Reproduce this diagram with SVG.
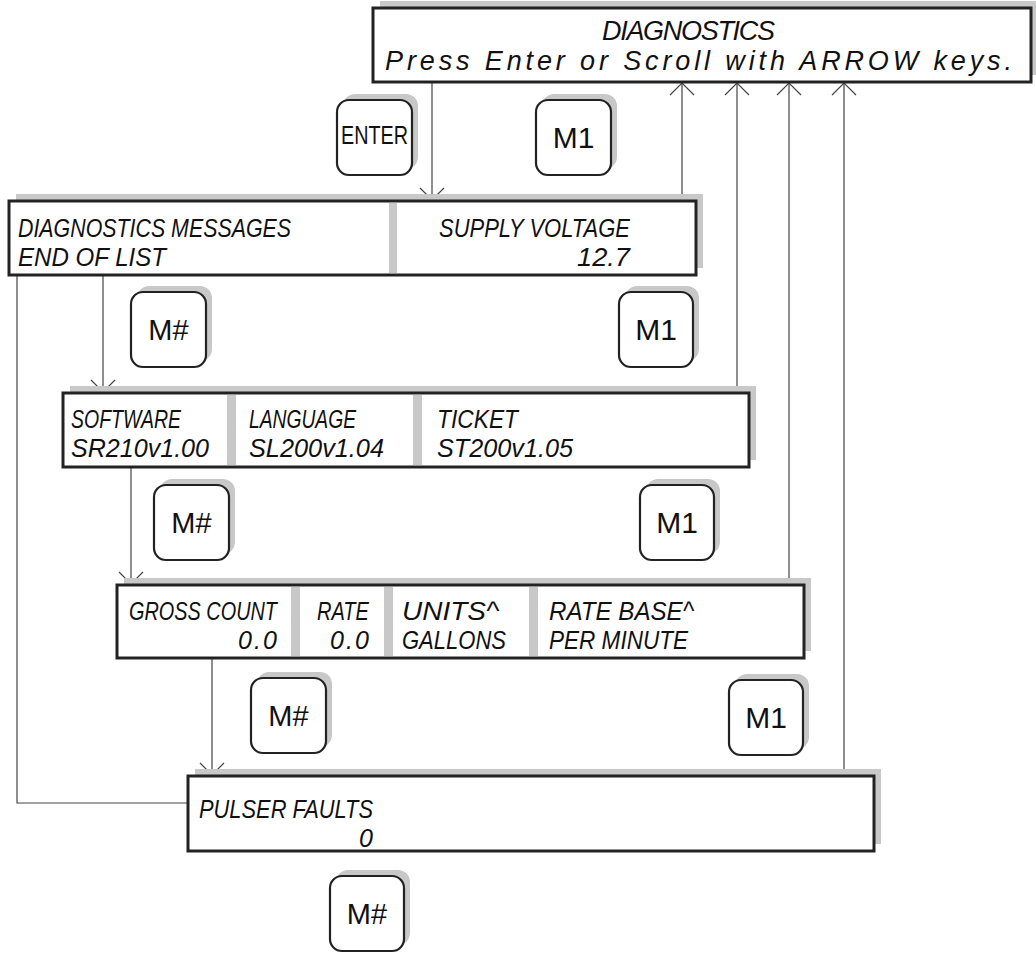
<svg xmlns="http://www.w3.org/2000/svg" width="1036" height="953" viewBox="0 0 1036 953">
<style>
.sh{fill:#c8c8c8}
.box{fill:#fff;stroke:#222;stroke-width:3}
.div{fill:#c8c8c8}
.key{fill:#fff;stroke:#222;stroke-width:2.2}
.ksh{fill:#c8c8c8}
.t{font-family:"Liberation Sans",Arial,sans-serif;font-style:italic;font-size:25px;fill:#111}
.tm{font-family:"Liberation Sans",Arial,sans-serif;font-style:italic;font-size:27px;fill:#111}
.k{font-family:"Liberation Sans",Arial,sans-serif;fill:#111;text-anchor:middle}
.c{fill:none;stroke:#444;stroke-width:1.2}
</style>
<defs>
<marker id="ah" markerUnits="userSpaceOnUse" viewBox="0 0 14 26" refX="13" refY="13" markerWidth="14" markerHeight="26" orient="auto">
<path d="M1,1 L13,13 L1,25" fill="none" stroke="#444" stroke-width="1.2"/>
</marker>
</defs>

<g id="connectors">
<path class="c" d="M432,82 V200" marker-end="url(#ah)"/>
<path class="c" d="M682,201 V83" marker-end="url(#ah)"/>
<path class="c" d="M737,393 V83" marker-end="url(#ah)"/>
<path class="c" d="M789,585 V83" marker-end="url(#ah)"/>
<path class="c" d="M844,776 V83" marker-end="url(#ah)"/>
<path class="c" d="M103,275 V392" marker-end="url(#ah)"/>
<path class="c" d="M131,467 V584" marker-end="url(#ah)"/>
<path class="c" d="M212,658 V775" marker-end="url(#ah)"/>
<path class="c" d="M17,275 V803 H188"/>
</g>

<g id="diagnostics">
<rect class="sh" x="380" y="1" width="656" height="74"/>
<rect class="box" x="373" y="8" width="658" height="74"/>
<text class="tm" x="602" y="40" textLength="173" lengthAdjust="spacing">DIAGNOSTICS</text>
<text class="tm" x="385" y="70" textLength="627" lengthAdjust="spacing">Press Enter or Scroll with ARROW keys.</text>
</g>

<g id="box1">
<rect class="sh" x="16" y="194" width="687" height="74"/>
<rect class="box" x="9" y="201" width="687" height="74"/>
<rect class="div" x="389" y="203" width="8" height="70"/>
<text class="t" x="18" y="237" textLength="273" lengthAdjust="spacingAndGlyphs">DIAGNOSTICS MESSAGES</text>
<text class="t" x="18" y="266" textLength="148" lengthAdjust="spacingAndGlyphs">END OF LIST</text>
<text class="t" x="439" y="237" textLength="191" lengthAdjust="spacingAndGlyphs">SUPPLY VOLTAGE</text>
<text class="t" x="577" y="266" textLength="53" lengthAdjust="spacingAndGlyphs">12.7</text>
</g>

<g id="box2">
<rect class="sh" x="70" y="386" width="686" height="74"/>
<rect class="box" x="63" y="393" width="686" height="74"/>
<rect class="div" x="227" y="395" width="9" height="70"/>
<rect class="div" x="413" y="395" width="9" height="70"/>
<text class="t" x="71" y="428" textLength="110" lengthAdjust="spacingAndGlyphs">SOFTWARE</text>
<text class="t" x="71" y="457" textLength="138" lengthAdjust="spacingAndGlyphs">SR210v1.00</text>
<text class="t" x="249" y="428" textLength="107" lengthAdjust="spacingAndGlyphs">LANGUAGE</text>
<text class="t" x="249" y="457" textLength="135" lengthAdjust="spacingAndGlyphs">SL200v1.04</text>
<text class="t" x="437" y="428" textLength="81" lengthAdjust="spacingAndGlyphs">TICKET</text>
<text class="t" x="437" y="457" textLength="136" lengthAdjust="spacingAndGlyphs">ST200v1.05</text>
</g>

<g id="box3">
<rect class="sh" x="124" y="578" width="687" height="73"/>
<rect class="box" x="117" y="585" width="687" height="73"/>
<rect class="div" x="291" y="587" width="9" height="69"/>
<rect class="div" x="384" y="587" width="9" height="69"/>
<rect class="div" x="529" y="587" width="9" height="69"/>
<text class="t" x="129" y="620" textLength="148" lengthAdjust="spacingAndGlyphs">GROSS COUNT</text>
<text class="t" x="238" y="649" textLength="39" lengthAdjust="spacing">0.0</text>
<text class="t" x="317" y="620" textLength="52" lengthAdjust="spacingAndGlyphs">RATE</text>
<text class="t" x="330" y="649" textLength="39" lengthAdjust="spacing">0.0</text>
<text class="t" x="402" y="620" textLength="97" lengthAdjust="spacingAndGlyphs">UNITS^</text>
<text class="t" x="402" y="649" textLength="104" lengthAdjust="spacingAndGlyphs">GALLONS</text>
<text class="t" x="549" y="620" textLength="145" lengthAdjust="spacingAndGlyphs">RATE BASE^</text>
<text class="t" x="549" y="649" textLength="139" lengthAdjust="spacingAndGlyphs">PER MINUTE</text>
</g>

<g id="box4">
<rect class="sh" x="195" y="769" width="686" height="75"/>
<rect class="box" x="188" y="776" width="686" height="75"/>
<text class="t" x="199" y="818" textLength="174" lengthAdjust="spacingAndGlyphs">PULSER FAULTS</text>
<text class="t" x="373" y="847" text-anchor="end">0</text>
</g>

<g id="key-enter">
<rect class="ksh" x="343" y="94" width="75" height="75" rx="12"/>
<rect class="key" x="337" y="100" width="75" height="75" rx="12"/>
<text class="k" x="374.5" y="144" font-size="25" textLength="67" lengthAdjust="spacingAndGlyphs">ENTER</text>
</g>
<g id="key-m1-a">
<rect class="ksh" x="542" y="94" width="75" height="75" rx="12"/>
<rect class="key" x="536" y="100" width="75" height="75" rx="12"/>
<text class="k" x="573.5" y="148" font-size="30">M1</text>
</g>
<g id="key-mh-a">
<rect class="ksh" x="137" y="286" width="75" height="75" rx="12"/>
<rect class="key" x="131" y="292" width="75" height="75" rx="12"/>
<text class="k" x="168.5" y="340" font-size="29">M#</text>
</g>
<g id="key-m1-b">
<rect class="ksh" x="625" y="286" width="74" height="75" rx="12"/>
<rect class="key" x="619" y="292" width="74" height="75" rx="12"/>
<text class="k" x="656" y="340" font-size="30">M1</text>
</g>
<g id="key-mh-b">
<rect class="ksh" x="160" y="479" width="75" height="75" rx="12"/>
<rect class="key" x="154" y="485" width="75" height="75" rx="12"/>
<text class="k" x="191.5" y="533" font-size="29">M#</text>
</g>
<g id="key-m1-c">
<rect class="ksh" x="646" y="479" width="74" height="75" rx="12"/>
<rect class="key" x="640" y="485" width="74" height="75" rx="12"/>
<text class="k" x="677" y="533" font-size="30">M1</text>
</g>
<g id="key-mh-c">
<rect class="ksh" x="257" y="672" width="75" height="75" rx="12"/>
<rect class="key" x="251" y="678" width="75" height="75" rx="12"/>
<text class="k" x="288.5" y="726" font-size="29">M#</text>
</g>
<g id="key-m1-d">
<rect class="ksh" x="735" y="674" width="74" height="75" rx="12"/>
<rect class="key" x="729" y="680" width="74" height="75" rx="12"/>
<text class="k" x="766" y="728" font-size="30">M1</text>
</g>
<g id="key-mh-d">
<rect class="ksh" x="336" y="870" width="74" height="75" rx="12"/>
<rect class="key" x="330" y="876" width="74" height="75" rx="12"/>
<text class="k" x="367" y="924" font-size="29">M#</text>
</g>
</svg>
